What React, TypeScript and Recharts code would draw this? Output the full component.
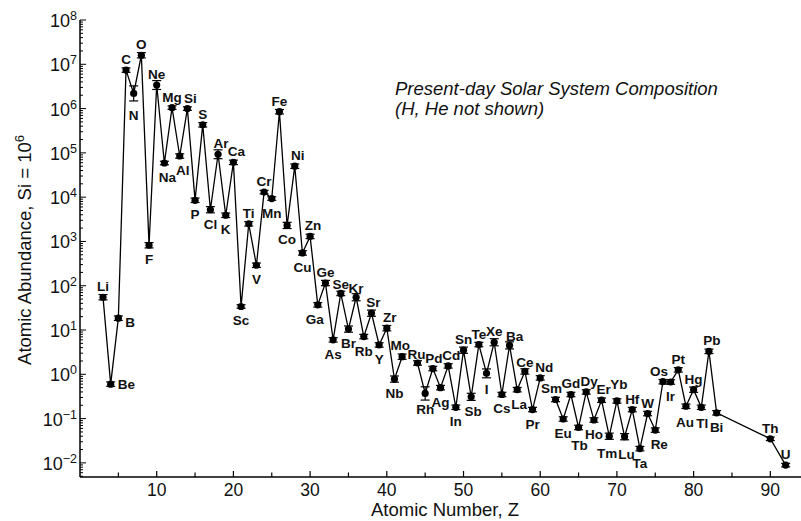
import { ErrorBar, Line, LineChart, XAxis, YAxis } from 'recharts'

// element symbols, H and He left out (as in the source figure)
const elements = [
  'Li', 'Be', 'B', 'C', 'N', 'O', 'F', 'Ne',
  'Na', 'Mg', 'Al', 'Si', 'P', 'S', 'Cl', 'Ar', 'K', 'Ca',
  'Sc', 'Ti', 'V', 'Cr', 'Mn', 'Fe', 'Co', 'Ni', 'Cu', 'Zn',
  'Ga', 'Ge', 'As', 'Se', 'Br', 'Kr', 'Rb', 'Sr', 'Y', 'Zr',
  'Nb', 'Mo', 'Tc', 'Ru', 'Rh', 'Pd', 'Ag', 'Cd', 'In', 'Sn',
  'Sb', 'Te', 'I', 'Xe', 'Cs', 'Ba', 'La', 'Ce', 'Pr', 'Nd',
  'Pm', 'Sm', 'Eu', 'Gd', 'Tb', 'Dy', 'Ho', 'Er', 'Tm', 'Yb',
  'Lu', 'Hf', 'Ta', 'W', 'Re', 'Os', 'Ir', 'Pt', 'Au', 'Hg',
  'Tl', 'Pb', 'Bi', 'Th', 'U',
]

const atomicNumbers = [
  3, 4, 5, 6, 7, 8, 9, 10,
  11, 12, 13, 14, 15, 16, 17, 18, 19, 20,
  21, 22, 23, 24, 25, 26, 27, 28, 29, 30,
  31, 32, 33, 34, 35, 36, 37, 38, 39, 40,
  41, 42, 43, 44, 45, 46, 47, 48, 49, 50,
  51, 52, 53, 54, 55, 56, 57, 58, 59, 60,
  61, 62, 63, 64, 65, 66, 67, 68, 69, 70,
  71, 72, 73, 74, 75, 76, 77, 78, 79, 80,
  81, 82, 83, 90, 92,
]

// atoms per 10^6 Si; Tc and Pm have no value (line breaks there)
const abundances: (number | null)[] = [
  55, 0.6, 18.5, 7.4e6, 2.2e6, 1.6e7, 820, 3.4e6,
  5.9e4, 1.05e6, 8.5e4, 1.0e6, 8500, 4.3e5, 5200, 9.3e4, 3900, 6.1e4,
  34, 2500, 290, 1.3e4, 9300, 8.5e5, 2300, 5.0e4, 550, 1300,
  37, 115, 6.0, 67, 10.5, 55, 7.1, 24, 4.6, 11,
  0.78, 2.5, null, 1.8, 0.37, 1.35, 0.5, 1.55, 0.18, 3.5,
  0.31, 4.7, 1.05, 5.3, 0.35, 4.5, 0.45, 1.16, 0.16, 0.83,
  null, 0.27, 0.098, 0.35, 0.063, 0.4, 0.093, 0.26, 0.04, 0.25,
  0.039, 0.16, 0.021, 0.13, 0.055, 0.68, 0.67, 1.26, 0.19, 0.45,
  0.18, 3.3, 0.135, 0.035, 0.0089,
]

// uncertainty in dex
const uncertaintyDex = [
  0.06, 0.05, 0.05, 0.05, 0.17, 0.06, 0.06, 0.1,
  0.04, 0.04, 0.05, 0.04, 0.05, 0.05, 0.07, 0.1, 0.05, 0.05,
  0.04, 0.05, 0.05, 0.04, 0.04, 0.05, 0.07, 0.05, 0.05, 0.05,
  0.05, 0.06, 0.05, 0.05, 0.07, 0.08, 0.05, 0.07, 0.05, 0.06,
  0.07, 0.06, 0, 0.05, 0.15, 0.05, 0.05, 0.05, 0.05, 0.07,
  0.08, 0.05, 0.1, 0.08, 0.05, 0.08, 0.05, 0.06, 0.05, 0.05,
  0, 0.05, 0.05, 0.05, 0.05, 0.05, 0.05, 0.05, 0.07, 0.05,
  0.07, 0.05, 0.05, 0.05, 0.05, 0.05, 0.05, 0.05, 0.05, 0.06,
  0.05, 0.05, 0.05, 0.04, 0.04,
]

const yMajorExponents = [-2, -1, 0, 1, 2, 3, 4, 5, 6, 7, 8]
const yMinorMultipliers = [2, 3, 4, 5, 6, 7, 8, 9]
const xMajorTicks = [10, 20, 30, 40, 50, 60, 70, 80, 90]
const xMinorTicks = [5, 15, 25, 35, 45, 55, 65, 75, 85]

const Y_MIN = 0.0048
const Y_MAX = 1e8

const FONT = '"Liberation Sans", Arial, Helvetica, sans-serif'

// label placement around each marker
const labelsBelow = [
  'N', 'F', 'Na', 'Al', 'P', 'Cl', 'K', 'Sc', 'V', 'Mn', 'Co', 'Cu', 'Ga',
  'As', 'Br', 'Rb', 'Y', 'Nb', 'Rh', 'Ag', 'In', 'Sb', 'I', 'Cs', 'La', 'Pr',
  'Eu', 'Tb', 'Ho', 'Tm', 'Lu', 'Ta', 'Re', 'Ir', 'Au', 'Tl', 'Bi',
]
const labelsRight = ['Be', 'B']
const labelNudge: Record<string, [number, number]> = {
  Na: [3, 0], Al: [3, 0], Si: [3, 0], Ar: [3, 0], Ca: [3, 0], Ni: [3, 0],
  Zn: [3, 0], Sr: [2, 0], Zr: [3, 0], Ba: [5, 2], Nd: [4, 0], Sm: [-4, 0],
  Dy: [3, 0], Er: [2, 0], Os: [-4, 0], Re: [4, 0], Pb: [3, 0], Ga: [-3, 0],
  Mo: [-2, -1], Tm: [-2, 3], La: [2, 0], Sb: [2, 0], N: [0, 8], Rh: [0, 2],
  Tb: [1, 4], Yb: [2, -6], Lu: [2, 3], Au: [-1, 2], Tl: [1, 2], I: [0, 2],
  B: [0, 4], Ru: [-1, 2], Pd: [1, 0], Cd: [3, 0], Kr: [0, 2], Ce: [0, 2],
  Se: [0, 2],
}

const data = elements.map((el, i) => {
  const v = abundances[i]
  const d = uncertaintyDex[i]
  return {
    el,
    z: atomicNumbers[i],
    v,
    err: v == null ? undefined : [v - v / 10 ** d, v * 10 ** d - v],
  }
})

const yTicks: number[] = []
for (const e of [-3, ...yMajorExponents]) {
  if (e >= yMajorExponents[0]) yTicks.push(10 ** e)
  if (e < 8) {
    for (const m of yMinorMultipliers) {
      const t = m * 10 ** e
      if (t >= Y_MIN && t <= Y_MAX) yTicks.push(t)
    }
  }
}
const xTicks = [...xMinorTicks, ...xMajorTicks].sort((a, b) => a - b)

function YTick({ x, y, payload }: any) {
  const v = payload.value as number
  const exp = Math.round(Math.log10(v))
  const major = Math.abs(v - 10 ** exp) < 1e-6 * 10 ** exp
  return (
    <g>
      <line x1={x} x2={x + (major ? 6 : 3)} y1={y} y2={y} stroke="#000" strokeWidth={1} />
      {major && (
        <text x={x - 3} y={y + 7} textAnchor="end" fontSize={18} fill="#111" fontFamily={FONT}>
          10
          <tspan dy={-7} fontSize={12.5}>
            {exp < 0 ? '\u2212' + -exp : String(exp)}
          </tspan>
        </text>
      )}
    </g>
  )
}

function XTick({ x, y, payload }: any) {
  const major = payload.value % 10 === 0
  return (
    <g>
      <line x1={x} x2={x} y1={y} y2={y - (major ? 6 : 4.5)} stroke="#000" strokeWidth={1.2} />
      {major && (
        <text x={x} y={y + 19} textAnchor="middle" fontSize={17.5} fill="#111" fontFamily={FONT}>
          {payload.value}
        </text>
      )}
    </g>
  )
}

function ElementDot({ cx, cy, payload, index }: any) {
  if (cx == null || cy == null || payload?.v == null) return <g key={index} />
  const el = payload.el as string
  const [ndx, ndy] = labelNudge[el] || [0, 0]
  let tx = cx
  let ty = cy - 6
  let anchor: 'middle' | 'start' = 'middle'
  if (labelsBelow.includes(el)) ty = cy + 19
  if (labelsRight.includes(el)) {
    tx = cx + 7
    ty = cy + 5
    anchor = 'start'
  }
  return (
    <g key={index}>
      <circle cx={cx} cy={cy} r={3.6} fill="#000" />
      <text
        x={tx + ndx}
        y={ty + ndy}
        textAnchor={anchor}
        fontSize={13.5}
        fontWeight={700}
        fill="#111"
        fontFamily={FONT}
      >
        {el}
      </text>
    </g>
  )
}

export default function App() {
  return (
    <div
      style={{
        position: 'absolute',
        left: 0,
        top: 0,
        width: 801,
        height: 521,
        background: '#fff',
        fontFamily: FONT,
      }}
    >
      <LineChart width={801} height={521} data={data} margin={{ top: 20, right: 0, bottom: 0, left: 0 }}>
        <XAxis
          dataKey="z"
          type="number"
          domain={[0, 94]}
          ticks={xTicks}
          interval={0}
          height={44}
          tickSize={0}
          tickMargin={0}
          tickLine={false}
          tick={<XTick />}
          axisLine={{ stroke: '#000', strokeWidth: 1.5 }}
        />
        <YAxis
          type="number"
          scale="log"
          domain={[Y_MIN, Y_MAX]}
          allowDataOverflow
          ticks={yTicks}
          interval={0}
          width={80}
          tickSize={0}
          tickMargin={0}
          tickLine={false}
          tick={<YTick />}
          axisLine={{ stroke: '#000', strokeWidth: 1.5 }}
        />
        <Line
          dataKey="v"
          stroke="#000"
          strokeWidth={1.3}
          connectNulls={false}
          isAnimationActive={false}
          dot={(p: any) => <ElementDot key={p.index} {...p} />}
          activeDot={false}
        >
          <ErrorBar dataKey="err" width={4.5} stroke="#000" strokeWidth={1.2} direction="y" isAnimationActive={false} />
        </Line>
      </LineChart>
      <svg
        width={801}
        height={521}
        style={{ position: 'absolute', left: 0, top: 0, pointerEvents: 'none' }}
      >
        <text x={395} y={95} fontSize={18.5} fontStyle="italic" fill="#111" fontFamily={FONT}>
          Present-day Solar System Composition
        </text>
        <text x={395} y={115} fontSize={18.5} fontStyle="italic" fill="#111" fontFamily={FONT}>
          (H, He not shown)
        </text>
        <text x={445} y={516} textAnchor="middle" fontSize={18.5} fill="#111" fontFamily={FONT}>
          Atomic Number, Z
        </text>
        <text
          transform="translate(31,250) rotate(-90)"
          textAnchor="middle"
          fontSize={18.5}
          fill="#111"
          fontFamily={FONT}
        >
          Atomic Abundance, Si = 10
          <tspan dy={-7} fontSize={13}>
            6
          </tspan>
        </text>
      </svg>
    </div>
  )
}
